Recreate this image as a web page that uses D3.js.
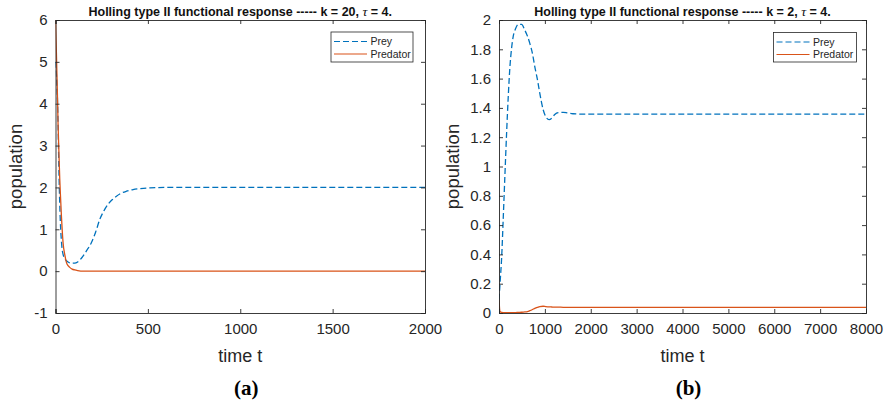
<!DOCTYPE html>
<html>
<head>
<meta charset="utf-8">
<script src="https://cdn.jsdelivr.net/npm/d3@7"></script>
<style>
  body { margin: 0; background: #fff; }
  svg text { font-family: "Liberation Sans", Arial, Helvetica, sans-serif; fill: #262626; }
</style>
</head>
<body id="body">
<svg></svg>
<script>
var width = 893;
var height = 406;

// panel (a): k = 20
var timeA = [0, 5, 10, 14, 18, 23, 28, 32, 36, 41, 50, 59, 68, 77, 90, 104, 120, 149, 170, 194, 217, 240, 262, 285, 308, 330, 355, 384, 420, 456, 510, 600, 800, 1000, 1500, 2000];
var preyA = [5.0, 4.7, 4.2, 3.5, 2.5, 1.6, 1.0, 0.72, 0.52, 0.4, 0.3, 0.25, 0.22, 0.2, 0.19, 0.19, 0.22, 0.36, 0.5, 0.68, 0.93, 1.24, 1.44, 1.6, 1.71, 1.79, 1.86, 1.91, 1.95, 1.97, 1.99, 2.0, 2.0, 2.0, 2.0, 2.0];
var predA = [6.0, 5.2, 4.3, 3.5, 2.9, 2.2, 1.7, 1.32, 1.0, 0.68, 0.4, 0.21, 0.13, 0.09, 0.05, 0.03, 0.015, 0.0, 0.0, 0.0, 0.0, 0.0, 0.0, 0.0, 0.0, 0.0, 0.0, 0.0, 0.0, 0.0, 0.0, 0.0, 0.0, 0.0, 0.0, 0.0];

// panel (b): k = 2
var timeB = [0, 22, 58, 94, 130, 166, 202, 238, 275, 311, 360, 419, 492, 564, 620, 672, 730, 781, 840, 889, 961, 1020, 1092, 1150, 1215, 1290, 1400, 1500, 1612, 1800, 2500, 4000, 6000, 8000];
var preyB = [0.09, 0.2, 0.38, 0.66, 0.95, 1.23, 1.48, 1.68, 1.81, 1.89, 1.94, 1.97, 1.97, 1.93, 1.89, 1.84, 1.77, 1.68, 1.59, 1.5, 1.39, 1.34, 1.32, 1.33, 1.355, 1.368, 1.37, 1.365, 1.36, 1.358, 1.358, 1.358, 1.358, 1.358];
var predB = [0.09, 0.01, 0.004, 0.003, 0.003, 0.003, 0.003, 0.003, 0.003, 0.003, 0.003, 0.004, 0.005, 0.007, 0.01, 0.016, 0.024, 0.032, 0.039, 0.044, 0.046, 0.044, 0.042, 0.041, 0.04, 0.04, 0.039, 0.039, 0.039, 0.039, 0.039, 0.039, 0.039, 0.039];

var xTicksA = [0, 500, 1000, 1500, 2000];
var yTicksA = [-1, 0, 1, 2, 3, 4, 5, 6];
var xTicksB = [0, 1000, 2000, 3000, 4000, 5000, 6000, 7000, 8000];
var yTicksB = [0, 0.2, 0.4, 0.6, 0.8, 1, 1.2, 1.4, 1.6, 1.8, 2];

var seriesNames = ["Prey", "Predator"];
var preyColor = "#0072BD";
var predColor = "#D95319";

var svg = d3.select("svg")
  .attr("width", width)
  .attr("height", height);

var panels = [
  {
    left: 55.5, right: 425, top: 20, bottom: 313,
    xDomain: [0, 2000], yDomain: [-1, 6],
    xTicks: xTicksA, yTicks: yTicksA,
    time: timeA, prey: preyA, pred: predA,
    k: "20", label: "(a)",
    legend: {x: 331, y: 32, w: 82, h: 30},
    ylabelX: 16
  },
  {
    left: 499, right: 866, top: 20, bottom: 313,
    xDomain: [0, 8000], yDomain: [0, 2],
    xTicks: xTicksB, yTicks: yTicksB,
    time: timeB, prey: preyB, pred: predB,
    k: "2", label: "(b)",
    legend: {x: 773.5, y: 32.5, w: 83, h: 29.5},
    ylabelX: 453
  }
];

panels.forEach(drawPanel);

function drawPanel(p) {
  var x = d3.scaleLinear().domain(p.xDomain).range([p.left, p.right]);
  var y = d3.scaleLinear().domain(p.yDomain).range([p.bottom, p.top]);
  var g = svg.append("g");

  var clipId = "clip" + p.k;
  g.append("clipPath").attr("id", clipId)
    .append("rect")
    .attr("x", p.left).attr("y", p.top)
    .attr("width", p.right - p.left).attr("height", p.bottom - p.top);

  var line = function (vals) {
    return d3.line()
      .x(function (d, i) { return x(p.time[i]); })
      .y(function (d) { return y(d); })
      .curve(d3.curveMonotoneX)(vals);
  };

  var lines = g.append("g").attr("clip-path", "url(#" + clipId + ")");
  lines.append("path")
    .attr("d", line(p.prey))
    .attr("fill", "none")
    .attr("stroke", preyColor)
    .attr("stroke-width", 1.3)
    .attr("stroke-dasharray", "6,3");
  lines.append("path")
    .attr("d", line(p.pred))
    .attr("fill", "none")
    .attr("stroke", predColor)
    .attr("stroke-width", 1.3);

  // axes (ticks inside, box on)
  g.append("g")
    .attr("transform", "translate(0," + p.bottom + ")")
    .call(d3.axisBottom(x).tickValues(p.xTicks).tickSize(-4).tickPadding(10).tickFormat(d3.format("d")))
    .call(styleAxis);
  g.append("g")
    .attr("transform", "translate(0," + p.top + ")")
    .call(d3.axisTop(x).tickValues(p.xTicks).tickSize(-4).tickFormat(""))
    .call(styleAxis);
  g.append("g")
    .attr("transform", "translate(" + p.left + ",0)")
    .call(d3.axisLeft(y).tickValues(p.yTicks).tickSize(-4).tickPadding(8).tickFormat(function (d) { return String(+d.toFixed(1)); }))
    .call(styleAxis);
  g.append("g")
    .attr("transform", "translate(" + p.right + ",0)")
    .call(d3.axisRight(y).tickValues(p.yTicks).tickSize(-4).tickFormat(""))
    .call(styleAxis);

  // title
  var title = g.append("text")
    .attr("x", (p.left + p.right) / 2)
    .attr("y", 16)
    .attr("text-anchor", "middle")
    .style("font-size", "12.5px")
    .style("font-weight", "bold")
    .style("fill", "#111");
  title.append("tspan").text("Holling type II functional response ----- k = " + p.k + ", ");
  title.append("tspan").text("\u03C4").style("font-family", "'Liberation Serif', serif").style("font-style", "italic").style("font-weight", "normal").style("font-size", "13.5px");
  title.append("tspan").text(" = 4.");

  // axis labels
  g.append("text")
    .attr("x", (p.left + p.right) / 2)
    .attr("y", 362)
    .attr("text-anchor", "middle")
    .style("font-size", "18px")
    .text("time t");
  g.append("text")
    .attr("transform", "translate(" + (p.ylabelX + 6) + "," + ((p.top + p.bottom) / 2) + ") rotate(-90)")
    .attr("text-anchor", "middle")
    .style("font-size", "18.5px")
    .text("population");

  // panel label
  g.append("text")
    .attr("x", (p.left + p.right) / 2 + 6)
    .attr("y", 395)
    .attr("text-anchor", "middle")
    .style("font-family", "'Liberation Serif', 'Times New Roman', serif")
    .style("font-weight", "bold")
    .style("font-size", "21px")
    .style("fill", "#000")
    .text(p.label);

  // legend
  var L = p.legend;
  var lg = g.append("g");
  lg.append("rect")
    .attr("x", L.x).attr("y", L.y).attr("width", L.w).attr("height", L.h)
    .attr("fill", "#fff").attr("stroke", "#262626").attr("stroke-width", 0.8);
  seriesNames.forEach(function (name, i) {
    var cy = L.y + 9.5 + i * 12.5;
    lg.append("line")
      .attr("x1", L.x + 3).attr("x2", L.x + 36)
      .attr("y1", cy).attr("y2", cy)
      .attr("stroke", i === 0 ? preyColor : predColor)
      .attr("stroke-width", 1.2)
      .attr("stroke-dasharray", i === 0 ? "6,3" : null);
    lg.append("text")
      .attr("x", L.x + 39.5).attr("y", cy + 3.8)
      .style("font-size", "10.5px")
      .text(name);
  });
}

function styleAxis(sel) {
  sel.select(".domain").attr("stroke", "#262626").attr("stroke-width", 0.9);
  sel.selectAll(".tick line").attr("stroke", "#262626").attr("stroke-width", 0.9);
  sel.selectAll(".tick text").style("font-size", "15px").style("fill", "#262626")
    .style("font-family", "'Liberation Sans', Arial, sans-serif");
}
</script>
</body>
</html>
